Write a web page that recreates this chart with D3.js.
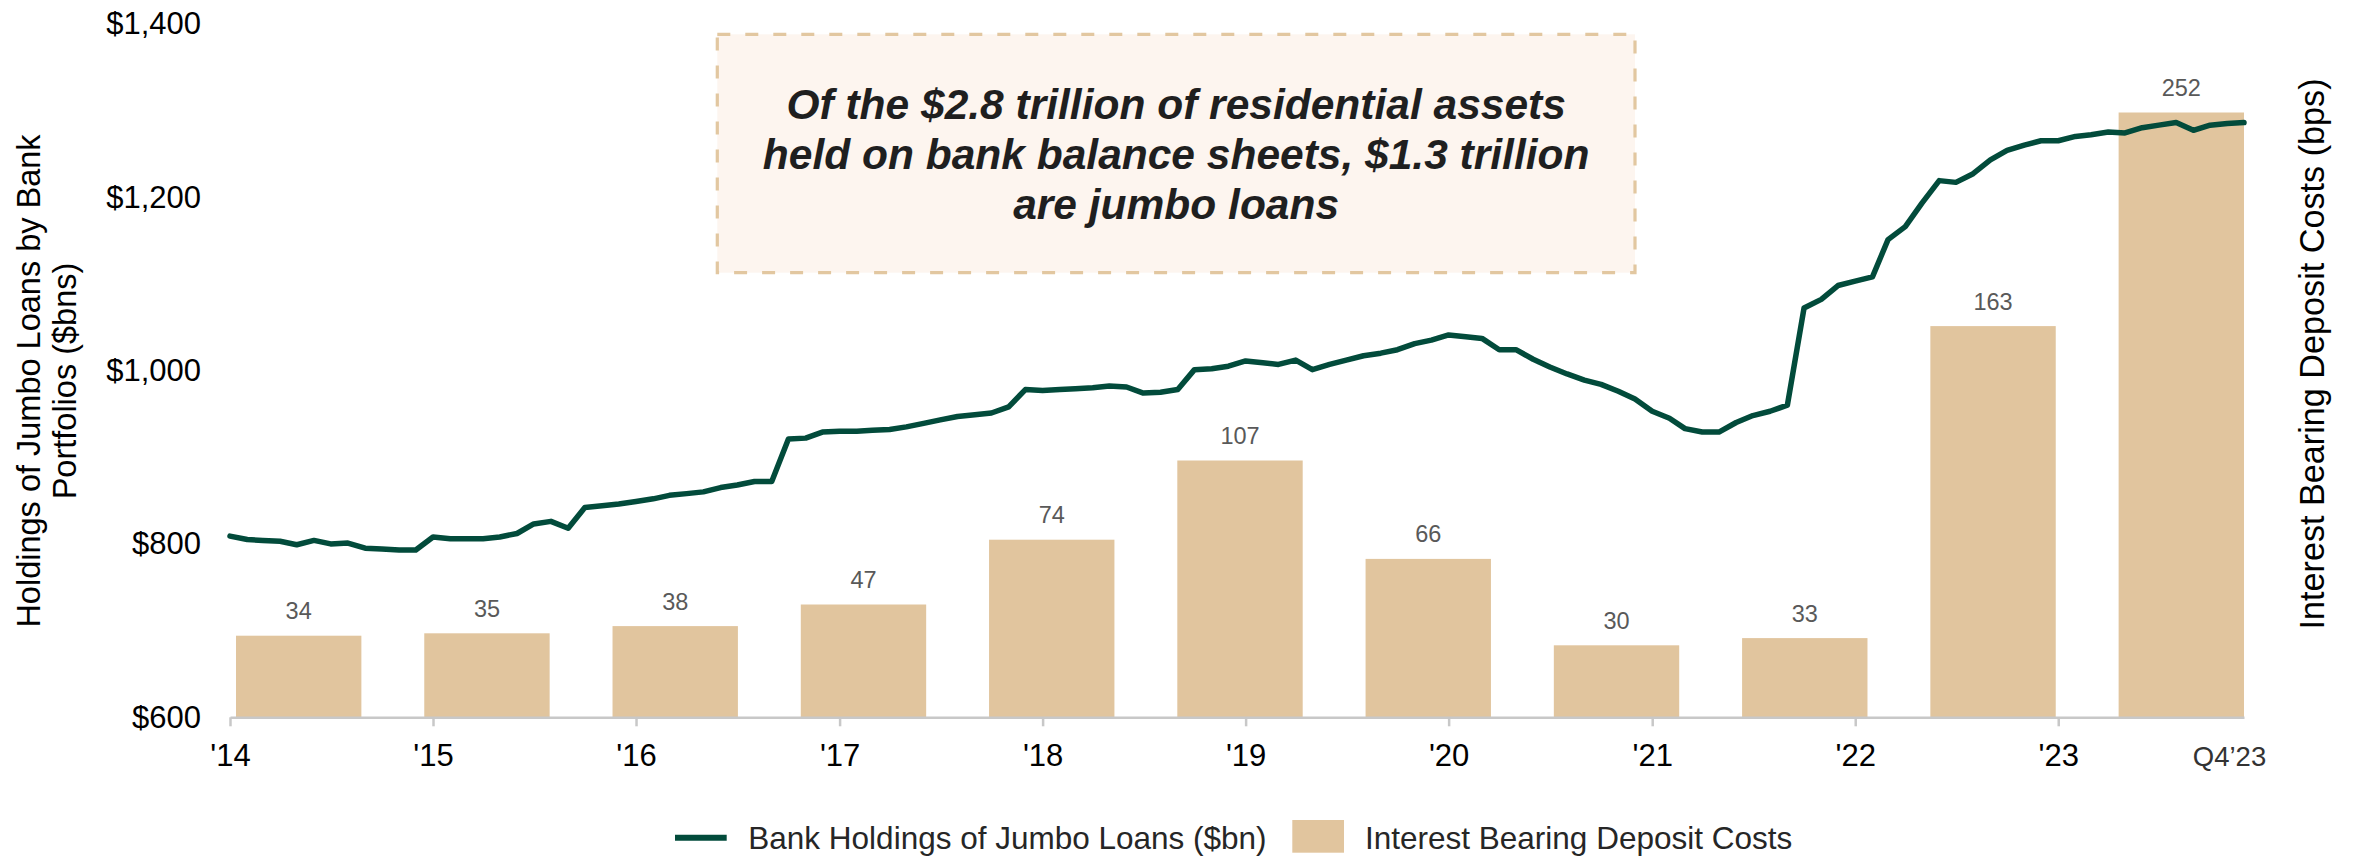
<!DOCTYPE html>
<html>
<head>
<meta charset="utf-8">
<script src="https://cdn.jsdelivr.net/npm/d3@7"></script>
<style>
  html, body { margin: 0; padding: 0; background: #ffffff; }
  svg { display: block; font-family: "Liberation Sans", Arial, Helvetica, sans-serif; }
</style>
</head>
<body>
<svg id="chart" width="2354" height="857"></svg>
<script>
// Bank holdings of jumbo loans ($bn), monthly, Jan 2014 – Dec 2023
const holdingsStart = [2014, 0];
const holdings = [
  809, 805, 804, 803, 799, 804, 800, 801, 795, 794, 793, 793,
  808, 806, 806, 806, 808, 812, 823, 826, 818, 842, 844, 846,
  849, 852, 856, 858, 860, 865, 868, 872, 872, 921, 922, 929,
  930, 930, 931, 932, 935, 939, 943, 947, 949, 951, 958, 978,
  977, 978, 979, 980, 982, 981, 974, 975, 978, 1001, 1002, 1005,
  1011, 1009, 1007, 1012, 1001, 1007, 1012, 1017, 1020, 1024, 1031, 1035,
  1041, 1039, 1037, 1024, 1024, 1013, 1004, 996, 989, 984, 976, 967,
  953, 945, 933, 929, 929, 940, 948, 953, 960, 1072, 1082, 1098,
  1103, 1108, 1151, 1166, 1193, 1219, 1217, 1227, 1243, 1254, 1260, 1265,
  1265, 1270, 1272, 1275, 1274, 1280, 1283, 1286, 1277, 1283, 1285, 1286
];

// Interest bearing deposit costs (bps)
const periods = ["2014", "2015", "2016", "2017", "2018", "2019", "2020", "2021", "2022", "2023", "Q4 2023"];
const depositCosts = [34, 35, 38, 47, 74, 107, 66, 30, 33, 163, 252];

// Axis labels
const leftTicks = [600, 800, 1000, 1200, 1400];
const yearTicks = [2014, 2015, 2016, 2017, 2018, 2019, 2020, 2021, 2022, 2023];
const yearTickLabels = ["'14", "'15", "'16", "'17", "'18", "'19", "'20", "'21", "'22", "'23"];
const endLabel = "Q4\u201923";

const calloutLines = [
  "Of the $2.8 trillion of residential assets",
  "held on bank balance sheets, $1.3 trillion",
  "are jumbo loans"
];

const GREEN = "#024b3b";
const TAN = "#e1c59e";

const svg = d3.select("#chart");

const plot = { left: 230, right: 2244, top: 23.7, bottom: 717.3 };

const dates = holdings.map((_, i) => new Date(Date.UTC(holdingsStart[0], holdingsStart[1] + i, 1)));
const x = d3.scaleUtc()
  .domain([dates[0], dates[dates.length - 1]])
  .range([plot.left, plot.right]);

const yLeft = d3.scaleLinear().domain([600, 1400]).range([plot.bottom, plot.top]);
const yRight = d3.scaleLinear().domain([0, 289]).range([plot.bottom, plot.top]);

const xBar = d3.scaleBand()
  .domain(periods)
  .range([236, 2244])
  .paddingInner(0.334)
  .paddingOuter(0);

// Callout box
const box = { x: 717.3, y: 34.3, w: 917.7, h: 238.4 };
svg.append("rect")
  .attr("x", box.x).attr("y", box.y)
  .attr("width", box.w).attr("height", box.h)
  .attr("fill", "#fdf5ef")
  .attr("stroke", "#e2c7a0")
  .attr("stroke-width", 3.2)
  .attr("stroke-dasharray", "13,15");

svg.append("g")
  .selectAll("text")
  .data(calloutLines)
  .join("text")
  .attr("x", box.x + box.w / 2)
  .attr("y", (d, i) => 118.5 + i * 50.4)
  .attr("text-anchor", "middle")
  .attr("font-size", 42.5)
  .attr("font-weight", "bold")
  .attr("font-style", "italic")
  .attr("fill", "#1f1f1f")
  .text(d => d);

// Bars
svg.append("g")
  .selectAll("rect")
  .data(depositCosts)
  .join("rect")
  .attr("x", (d, i) => xBar(periods[i]))
  .attr("y", d => yRight(d))
  .attr("width", xBar.bandwidth())
  .attr("height", d => yRight(0) - yRight(d))
  .attr("fill", TAN);

svg.append("g")
  .selectAll("text")
  .data(depositCosts)
  .join("text")
  .attr("x", (d, i) => xBar(periods[i]) + xBar.bandwidth() / 2)
  .attr("y", d => yRight(d) - 16.5)
  .attr("text-anchor", "middle")
  .attr("font-size", 23.5)
  .attr("fill", "#595959")
  .text(d => d);

// X axis
const xAxis = d3.axisBottom(x)
  .tickValues(yearTicks.map(yr => new Date(Date.UTC(yr, 0, 1))))
  .tickFormat((d, i) => yearTickLabels[i])
  .tickSize(9)
  .tickSizeOuter(0)
  .tickPadding(18);

const gx = svg.append("g")
  .attr("transform", `translate(0,${plot.bottom})`)
  .call(xAxis);
gx.select(".domain").attr("stroke", "#c8c8c8").attr("stroke-width", 2.5);
gx.selectAll(".tick line").attr("stroke", "#c8c8c8").attr("stroke-width", 2.5);
gx.selectAll(".tick text")
  .attr("font-size", 31)
  .attr("font-family", "'Liberation Sans', Arial, sans-serif")
  .attr("fill", "#000");

svg.append("text")
  .attr("x", x(new Date(Date.UTC(2023, 10, 5))))
  .attr("y", 765.5)
  .attr("text-anchor", "middle")
  .attr("font-size", 27.5)
  .attr("fill", "#333")
  .text(endLabel);

// Left axis labels (no axis line)
const yAxis = d3.axisLeft(yLeft)
  .tickValues(leftTicks)
  .tickFormat(d => "$" + d3.format(",")(d))
  .tickSize(0)
  .tickPadding(29);
const gy = svg.append("g")
  .attr("transform", `translate(${plot.left},0)`)
  .call(yAxis);
gy.select(".domain").remove();
gy.selectAll(".tick text")
  .attr("font-size", 31)
  .attr("font-family", "'Liberation Sans', Arial, sans-serif")
  .attr("fill", "#000");

// Line
const line = d3.line()
  .x((d, i) => x(dates[i]))
  .y(d => yLeft(d));
svg.append("path")
  .datum(holdings)
  .attr("d", line)
  .attr("fill", "none")
  .attr("stroke", GREEN)
  .attr("stroke-width", 5.5)
  .attr("stroke-linejoin", "round")
  .attr("stroke-linecap", "round");

// Axis titles
const leftTitle = svg.append("text")
  .attr("transform", "translate(40,381) rotate(-90)")
  .attr("text-anchor", "middle")
  .attr("font-size", 32.5)
  .attr("fill", "#000");
leftTitle.append("tspan").attr("x", 0).attr("y", 0).text("Holdings of Jumbo Loans by Bank");
leftTitle.append("tspan").attr("x", 0).attr("y", 35.5).text("Portfolios ($bns)");

svg.append("text")
  .attr("transform", "translate(2323.5,354) rotate(-90)")
  .attr("text-anchor", "middle")
  .attr("font-size", 34.2)
  .attr("fill", "#000")
  .text("Interest Bearing Deposit Costs (bps)");

// Legend
const legend = svg.append("g");
legend.append("line")
  .attr("x1", 675).attr("x2", 726.7)
  .attr("y1", 837.7).attr("y2", 837.7)
  .attr("stroke", GREEN).attr("stroke-width", 6);
legend.append("text")
  .attr("x", 748.3).attr("y", 849)
  .attr("font-size", 31.5).attr("fill", "#262626")
  .text("Bank Holdings of Jumbo Loans ($bn)");
legend.append("rect")
  .attr("x", 1292.3).attr("y", 820)
  .attr("width", 51.7).attr("height", 32.7)
  .attr("fill", TAN);
legend.append("text")
  .attr("x", 1365).attr("y", 849)
  .attr("font-size", 31.5).attr("fill", "#262626")
  .text("Interest Bearing Deposit Costs");
</script>
</body>
</html>
